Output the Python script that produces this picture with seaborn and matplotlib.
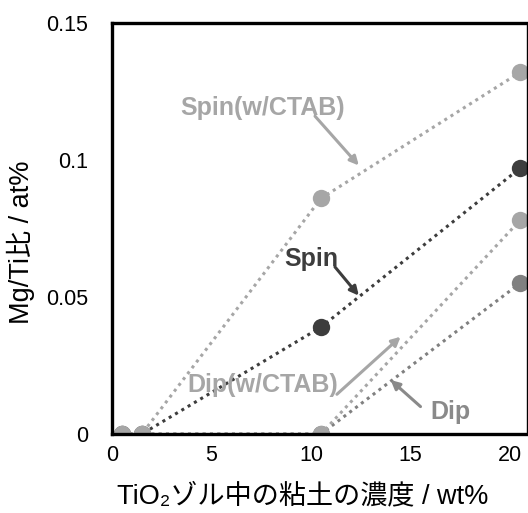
import matplotlib
matplotlib.use("Agg")
import matplotlib.pyplot as plt
import seaborn as sns
import pandas as pd

# clay concentration in the TiO2 sol (wt%)
conc = [0.5, 1.5, 10.5, 20.5]

# Mg/Ti ratio (at%) for each coating method
spin_ctab = [0.0, 0.0, 0.086, 0.132]
spin = [0.0, 0.0, 0.039, 0.097]
dip = [0.0, 0.0, 0.0, 0.055]
dip_ctab = [0.0, 0.0, 0.0, 0.078]

series_names = ["Spin", "Dip", "Spin(w/CTAB)", "Dip(w/CTAB)"]
series_values = [spin, dip, spin_ctab, dip_ctab]
series_colors = ["#3d3d3d", "#808080", "#a6a6a6", "#a6a6a6"]

x_ticks = [0, 5, 10, 15, 20]
y_ticks = [0, 0.05, 0.1, 0.15]
y_tick_labels = ["0", "0.05", "0.1", "0.15"]

sns.set_theme(style="white")
plt.rcParams["font.family"] = ["Liberation Sans", "Noto Sans CJK JP", "DejaVu Sans"]

fig = plt.figure(figsize=(5.28, 5.13), dpi=100)
ax = fig.add_axes([112 / 528, 79 / 513, (527 - 112) / 528, (434 - 23) / 513])

for name, vals, col in zip(series_names, series_values, series_colors):
    df = pd.DataFrame({"conc": conc, "ratio": vals})
    sns.lineplot(data=df, x="conc", y="ratio", ax=ax, color=col,
                 linestyle=(0, (1, 1.4)), linewidth=2.2,
                 marker="o", markersize=12.5, markeredgewidth=0,
                 markerfacecolor=col, label=name, legend=False)

ax.set_xlim(0, 20.85)
ax.set_ylim(0, 0.15)
ax.set_xticks(x_ticks)
ax.set_yticks(y_ticks)
ax.set_yticklabels(y_tick_labels)
ax.tick_params(axis="both", direction="in", length=5, width=2.2,
               color="black", labelsize=15.5, labelcolor="black")
ax.tick_params(axis="y", pad=17)
ax.tick_params(axis="x", pad=8)

for side in ["left", "bottom", "top"]:
    ax.spines[side].set_linewidth(2.4)
    ax.spines[side].set_color("black")
ax.spines["right"].set_linewidth(1.0)
ax.spines["right"].set_color("black")

ax.set_xlabel("TiO₂ゾル中の粘土の濃度 / wt%", fontsize=19.5, color="black")
ax.set_ylabel("Mg/Ti比 / at%", fontsize=19.5, color="black")
ax.xaxis.set_label_coords(0.46, -0.12)
ax.yaxis.set_label_coords(-0.185, 0.467)

# callout labels with arrows pointing at their curves
notes = [
    ("Spin(w/CTAB)", "#a6a6a6", (7.55, 0.119), (10.2, 0.116), (12.4, 0.098)),
    ("Spin", "#3d3d3d", (10.0, 0.064), (11.2, 0.061), (12.4, 0.0505)),
    ("Dip(w/CTAB)", "#a6a6a6", (7.55, 0.018), (11.3, 0.0145), (14.5, 0.0355)),
    ("Dip", "#8a8a8a", (17.0, 0.008), (15.5, 0.010), (14.0, 0.0197)),
]
for text, col, txy, start, tip in notes:
    ax.text(txy[0], txy[1], text, color=col, fontsize=18, fontweight="bold",
            ha="center", va="center")
    ax.annotate("", xy=tip, xytext=start,
                arrowprops=dict(arrowstyle="-|>", color=col, lw=2.2,
                                mutation_scale=13, shrinkA=0, shrinkB=0))

fig.savefig("out.png", dpi=100)
